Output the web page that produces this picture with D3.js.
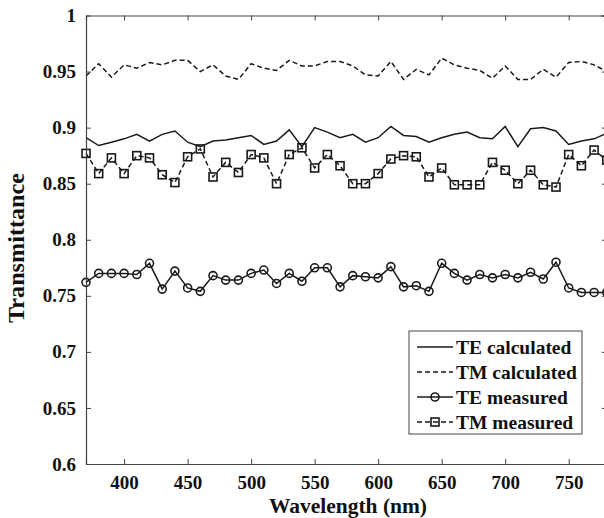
<!DOCTYPE html>
<html>
<head>
<meta charset="utf-8">
<script src="https://cdn.jsdelivr.net/npm/d3@7"></script>
<style>
html,body{margin:0;padding:0;background:#fff;overflow:hidden;}
svg{display:block;}
text{font-family:"Liberation Serif","Times New Roman",serif;font-weight:bold;fill:#111;}
</style>
</head>
<body>
<svg id="chart" width="604" height="518"></svg>
<script>
const wavelengths = d3.range(370, 781, 10);
const teCalculated = [0.891,0.884,0.887,0.890,0.894,0.888,0.894,0.897,0.887,0.883,0.888,0.889,0.891,0.893,0.885,0.888,0.898,0.883,0.900,0.896,0.891,0.894,0.887,0.891,0.901,0.893,0.892,0.887,0.891,0.894,0.896,0.891,0.890,0.901,0.883,0.899,0.900,0.897,0.885,0.888,0.890,0.895];
const tmCalculated = [0.946,0.957,0.945,0.956,0.953,0.958,0.956,0.960,0.960,0.950,0.956,0.946,0.943,0.957,0.953,0.951,0.960,0.955,0.955,0.959,0.959,0.955,0.947,0.946,0.959,0.943,0.952,0.947,0.962,0.956,0.953,0.951,0.944,0.955,0.943,0.943,0.952,0.945,0.958,0.959,0.956,0.950];
const teMeasured = [0.762,0.770,0.770,0.770,0.769,0.779,0.756,0.772,0.757,0.754,0.768,0.764,0.764,0.770,0.773,0.761,0.770,0.763,0.775,0.775,0.758,0.768,0.767,0.766,0.776,0.758,0.759,0.754,0.779,0.770,0.764,0.769,0.766,0.769,0.766,0.771,0.765,0.780,0.757,0.753,0.753,0.753];
const tmMeasured = [0.877,0.859,0.873,0.859,0.875,0.873,0.858,0.851,0.874,0.881,0.856,0.869,0.860,0.876,0.873,0.850,0.876,0.882,0.864,0.876,0.866,0.850,0.850,0.859,0.872,0.875,0.874,0.856,0.864,0.849,0.849,0.849,0.869,0.862,0.850,0.862,0.849,0.847,0.876,0.866,0.880,0.871];
const xTicks = [400,450,500,550,600,650,700,750];
const yTicks = [0.6,0.65,0.7,0.75,0.8,0.85,0.9,0.95,1];
const seriesNames = ["TE calculated","TM calculated","TE measured","TM measured"];

const svg = d3.select("#chart");
const L = 86, T = 15.5, B = 464, R = 606.8;
const x = d3.scaleLinear().domain([370, 780]).range([L, R]);
const y = d3.scaleLinear().domain([0.6, 1]).range([B, T]);
const ink = "#1a1a1a";
const txt = "#111";
const frameC = "#444";

const series = [
  {name: seriesNames[0], vals: teCalculated, dash: null, marker: null},
  {name: seriesNames[1], vals: tmCalculated, dash: "5,3", marker: null},
  {name: seriesNames[2], vals: teMeasured, dash: null, marker: "circle"},
  {name: seriesNames[3], vals: tmMeasured, dash: "5,3", marker: "square"}
];

const line = d3.line().x(d => x(d[0])).y(d => y(d[1]));
const plot = svg.append("g");

series.forEach(s => {
  const pts = wavelengths.map((w, i) => [w, s.vals[i]]);
  plot.append("path").datum(pts).attr("d", line)
    .attr("fill","none").attr("stroke", ink).attr("stroke-width", 1.5)
    .attr("stroke-dasharray", s.dash);
  if (s.marker === "circle") {
    plot.selectAll(null).data(pts).enter().append("circle")
      .attr("cx", d => x(d[0])).attr("cy", d => y(d[1])).attr("r", 4)
      .attr("fill","none").attr("stroke", ink).attr("stroke-width", 1.6);
  } else if (s.marker === "square") {
    plot.selectAll(null).data(pts).enter().append("rect")
      .attr("x", d => x(d[0]) - 4).attr("y", d => y(d[1]) - 4)
      .attr("width", 8).attr("height", 8)
      .attr("fill","none").attr("stroke", ink).attr("stroke-width", 1.6);
  }
});

// Axes (inward ticks, mirrored on top/right)
const fmt = d3.format("~g");
const axB = svg.append("g").attr("transform", `translate(0,${B})`)
  .call(d3.axisBottom(x).tickValues(xTicks).tickSize(-5).tickPadding(12).tickFormat(d3.format("d")));
const axT = svg.append("g").attr("transform", `translate(0,${T})`)
  .call(d3.axisTop(x).tickValues(xTicks).tickSize(-5).tickFormat(""));
const axL = svg.append("g").attr("transform", `translate(${L},0)`)
  .call(d3.axisLeft(y).tickValues(yTicks).tickSize(-5).tickPadding(10).tickFormat(fmt));
const axR = svg.append("g").attr("transform", `translate(${R},0)`)
  .call(d3.axisRight(y).tickValues(yTicks).tickSize(-5).tickFormat(""));
[axB, axT, axL, axR].forEach(a => {
  a.select(".domain").attr("stroke", frameC).attr("stroke-width", 1.2);
  a.selectAll(".tick line").attr("stroke", frameC).attr("stroke-width", 1);
  a.selectAll("text").attr("font-family", '"Liberation Serif","Times New Roman",serif')
    .attr("font-weight","bold").attr("font-size", 19).attr("fill", txt);
});
axB.selectAll(".tick text").attr("dy", "0.71em");
axL.selectAll(".tick").filter(d => d === 0.6 || d === 1).select("line").remove();

// Axis titles
svg.append("text").attr("x", (269 + 427) / 2).attr("y", 513)
  .attr("text-anchor","middle").attr("font-size", 21)
  .attr("textLength", 158).attr("lengthAdjust","spacingAndGlyphs")
  .text("Wavelength (nm)");
svg.append("text").attr("transform", "translate(24,248) rotate(-90)")
  .attr("text-anchor","middle").attr("font-size", 23)
  .attr("textLength", 150).attr("lengthAdjust","spacingAndGlyphs")
  .text("Transmittance");

// Legend
const lg = svg.append("g");
lg.append("rect").attr("x", 409).attr("y", 331).attr("width", 173).attr("height", 103)
  .attr("fill","#fff").attr("stroke", frameC).attr("stroke-width", 1);
series.forEach((s, i) => {
  const cy = 347 + i * 25;
  lg.append("line").attr("x1", 417).attr("x2", 453).attr("y1", cy).attr("y2", cy)
    .attr("stroke", ink).attr("stroke-width", 1.5).attr("stroke-dasharray", s.dash);
  if (s.marker === "circle") {
    lg.append("circle").attr("cx", 435).attr("cy", cy).attr("r", 4)
      .attr("fill","none").attr("stroke", ink).attr("stroke-width", 1.6);
  } else if (s.marker === "square") {
    lg.append("rect").attr("x", 431).attr("y", cy - 4).attr("width", 8).attr("height", 8)
      .attr("fill","none").attr("stroke", ink).attr("stroke-width", 1.6);
  }
  lg.append("text").attr("x", 456).attr("y", cy).attr("dy", "0.35em")
    .attr("font-size", 19.5).text(s.name);
});
</script>
</body>
</html>
